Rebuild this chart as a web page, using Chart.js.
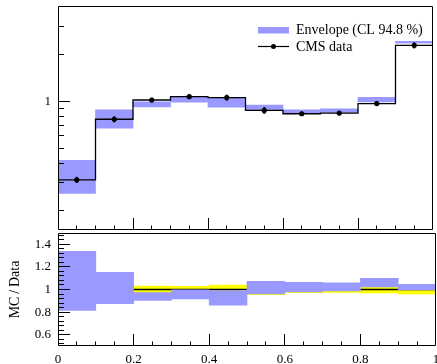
<!DOCTYPE html>
<html>
<head>
<meta charset="utf-8">
<script src="https://cdn.jsdelivr.net/npm/chart.js@4.4.1/dist/chart.umd.min.js"></script>
<style>
  html, body { margin: 0; padding: 0; background: #fff; }
  #wrap { position: relative; width: 437px; height: 364px; }
  #mainPlot { position: absolute; left: 0; top: 0; }
  #ratioPlot { position: absolute; left: 0; top: 233px; }
</style>
</head>
<body>
<div id="wrap">
  <canvas id="mainPlot" width="437" height="234" style="width:437px;height:234px"></canvas>
  <canvas id="ratioPlot" width="437" height="131" style="width:437px;height:131px"></canvas>
</div>
<script>
// bins
const binCenters = [0.05, 0.15, 0.25, 0.35, 0.45, 0.55, 0.65, 0.75, 0.85, 0.95];
const binEdges = [0, 0.1, 0.2, 0.3, 0.4, 0.5, 0.6, 0.7, 0.8, 0.9, 1.0];

// CMS data (normalised) and relative uncertainty
const cmsData = [0.314, 0.767, 1.019, 1.07, 1.055, 0.874, 0.832, 0.84, 0.967, 2.28];
const cmsRelErr = [0.04, 0.04, 0.03, 0.027, 0.04, 0.045, 0.027, 0.025, 0.03, 0.04];

// MC envelope, upper panel
const envLow = [0.2575, 0.673, 0.921, 0.986, 0.917, 0.874, 0.832, 0.849, 0.99, 2.35];
const envHigh = [0.418, 0.882, 0.99, 1.064, 1.044, 0.944, 0.882, 0.894, 1.06, 2.42];

// MC/Data envelope, ratio panel
const ratioLow = [0.814, 0.874, 0.904, 0.916, 0.862, 0.961, 0.979, 0.988, 1.022, 0.997];
const ratioHigh = [1.337, 1.153, 0.972, 0.997, 0.99, 1.072, 1.063, 1.058, 1.099, 1.045];

// axis ticks
const xMajor = [0.2, 0.4, 0.6, 0.8];
const xMinor = [0.05, 0.1, 0.15, 0.25, 0.3, 0.35, 0.45, 0.5, 0.55, 0.65, 0.7, 0.75, 0.85, 0.9, 0.95];
const xLabels = [0, 0.2, 0.4, 0.6, 0.8, 1];
const mainYMajor = [1];
const mainYMinor = [0.2, 0.3, 0.4, 0.5, 0.6, 0.7, 0.8, 0.9, 2, 3];
const ratioYMajor = [0.6, 0.8, 1, 1.2, 1.4];
const ratioYMinor = [0.52, 0.56, 0.64, 0.68, 0.72, 0.76, 0.84, 0.88, 0.92, 0.96,
                     1.04, 1.08, 1.12, 1.16, 1.24, 1.28, 1.32, 1.36, 1.44, 1.48];

const ENV_COLOR = '#9999ff';
const ERR_COLOR = '#ffff00';
const FONT = "'Liberation Serif', 'DejaVu Serif', serif";

Chart.defaults.font.family = FONT;
Chart.defaults.font.size = 13;
Chart.defaults.color = '#000';

const crisp = v => Math.floor(v) + 0.5;

// box around the plot area with inward tick marks
const frameTicks = {
  id: 'frameTicks',
  afterDraw(chart, args, o) {
    const { ctx, chartArea: a } = chart;
    const xs = chart.scales.x, ys = chart.scales.y;
    ctx.save();
    ctx.strokeStyle = '#000';
    ctx.lineWidth = 1;
    ctx.beginPath();
    ctx.rect(crisp(a.left), crisp(a.top), Math.round(a.right - a.left) - 1, Math.round(a.bottom - a.top) - 1);
    ctx.stroke();
    ctx.beginPath();
    const yTick = (vals, len) => vals.forEach(v => {
      const py = crisp(ys.getPixelForValue(v));
      ctx.moveTo(a.left, py); ctx.lineTo(a.left + len, py);
    });
    const xTick = (vals, len) => vals.forEach(v => {
      const px = crisp(xs.getPixelForValue(v));
      ctx.moveTo(px, a.bottom); ctx.lineTo(px, a.bottom - len);
    });
    yTick(o.yMajor, 12); yTick(o.yMinor, 6);
    xTick(xMajor, 12); xTick(xMinor, 4.5);
    ctx.stroke();
    ctx.restore();
  }
};

// legend inside the upper panel
const legendBox = {
  id: 'legendBox',
  afterDraw(chart) {
    const { ctx } = chart;
    ctx.save();
    ctx.fillStyle = ENV_COLOR;
    ctx.fillRect(258, 27, 31, 6.5);
    ctx.strokeStyle = '#000';
    ctx.lineWidth = 1.2;
    ctx.beginPath();
    ctx.moveTo(258, 46.5); ctx.lineTo(289, 46.5);
    ctx.stroke();
    ctx.fillStyle = '#000';
    ctx.beginPath();
    ctx.arc(273.5, 46.5, 2.5, 0, Math.PI * 2);
    ctx.fill();
    ctx.font = '14px ' + FONT;
    ctx.textBaseline = 'middle';
    ctx.fillText('Envelope (CL 94.8 %)', 296, 30.5);
    ctx.fillText('CMS data', 296, 47);
    ctx.restore();
  }
};

const barStyle = { type: 'bar', grouped: false, barPercentage: 1, categoryPercentage: 1, borderWidth: 0 };

// y axes keep a fixed width and reserve no room for their end labels
const fixLeftAxis = s => { s.width = 58; s.paddingTop = 0; s.paddingBottom = 0; };

new Chart(document.getElementById('mainPlot'), {
  type: 'bar',
  data: {
    datasets: [
      {
        type: 'line', order: 0, showLine: false,
        data: binCenters.map((x, i) => ({ x, y: cmsData[i] })),
        pointRadius: 2.6, pointBackgroundColor: '#000', pointBorderWidth: 0
      },
      {
        ...barStyle, order: 1, barThickness: 1.2, backgroundColor: '#000',
        data: binCenters.map((x, i) => ({ x, y: [cmsData[i] * (1 - cmsRelErr[i]), cmsData[i] * (1 + cmsRelErr[i])] }))
      },
      {
        type: 'line', order: 2, stepped: true,
        data: binEdges.map((x, i) => ({ x, y: cmsData[Math.min(i, cmsData.length - 1)] })),
        borderColor: '#000', borderWidth: 1.3, pointRadius: 0
      },
      {
        ...barStyle, order: 3, backgroundColor: ENV_COLOR,
        data: binCenters.map((x, i) => ({ x, y: [envLow[i], envHigh[i]] }))
      }
    ]
  },
  options: {
    responsive: false,
    animation: false,
    layout: { padding: { top: 6, right: 1, bottom: 0, left: 0 } },
    plugins: { legend: { display: false }, tooltip: { enabled: false }, frameTicks: { yMajor: mainYMajor, yMinor: mainYMinor } },
    scales: {
      x: { type: 'linear', min: 0, max: 1, offset: false, display: false },
      y: {
        type: 'logarithmic', min: 0.15, max: 4.07, bounds: 'data',
        grid: { display: false, drawTicks: false }, border: { display: false },
        ticks: { padding: 7, callback: v => String(v) },
        afterBuildTicks: s => { s.ticks = mainYMajor.map(value => ({ value })); },
        afterFit: fixLeftAxis
      }
    }
  },
  plugins: [frameTicks, legendBox]
});

new Chart(document.getElementById('ratioPlot'), {
  type: 'bar',
  data: {
    datasets: [
      {
        ...barStyle, order: 0, backgroundColor: ENV_COLOR,
        data: binCenters.map((x, i) => ({ x, y: [ratioLow[i], ratioHigh[i]] }))
      },
      {
        type: 'line', order: 1,
        data: [{ x: 0, y: 1 }, { x: 1, y: 1 }],
        borderColor: '#000', borderWidth: 1.3, pointRadius: 0
      },
      {
        ...barStyle, order: 2, backgroundColor: ERR_COLOR,
        data: binCenters.map((x, i) => ({ x, y: [1 - cmsRelErr[i], 1 + cmsRelErr[i]] }))
      }
    ]
  },
  options: {
    responsive: false,
    animation: false,
    layout: { padding: { top: 0, right: 1, bottom: 0, left: 0 } },
    plugins: { legend: { display: false }, tooltip: { enabled: false }, frameTicks: { yMajor: ratioYMajor, yMinor: ratioYMinor } },
    scales: {
      x: {
        type: 'linear', min: 0, max: 1, offset: false,
        grid: { display: false, drawTicks: false }, border: { display: false },
        ticks: { padding: 6, maxRotation: 0, callback: v => String(v) },
        afterBuildTicks: s => { s.ticks = xLabels.map(value => ({ value })); },
        afterFit: s => { s.height = 18; s.paddingLeft = 0; s.paddingRight = 0; }
      },
      y: {
        type: 'linear', min: 0.5, max: 1.5, bounds: 'data',
        grid: { display: false, drawTicks: false }, border: { display: false },
        ticks: { padding: 7, callback: v => String(v) },
        title: { display: true, text: 'MC\u2009/\u2009Data', font: { size: 14 }, padding: { top: 7, bottom: 0 } },
        afterBuildTicks: s => { s.ticks = ratioYMajor.map(value => ({ value })); },
        afterFit: fixLeftAxis
      }
    }
  },
  plugins: [frameTicks]
});
</script>
</body>
</html>
